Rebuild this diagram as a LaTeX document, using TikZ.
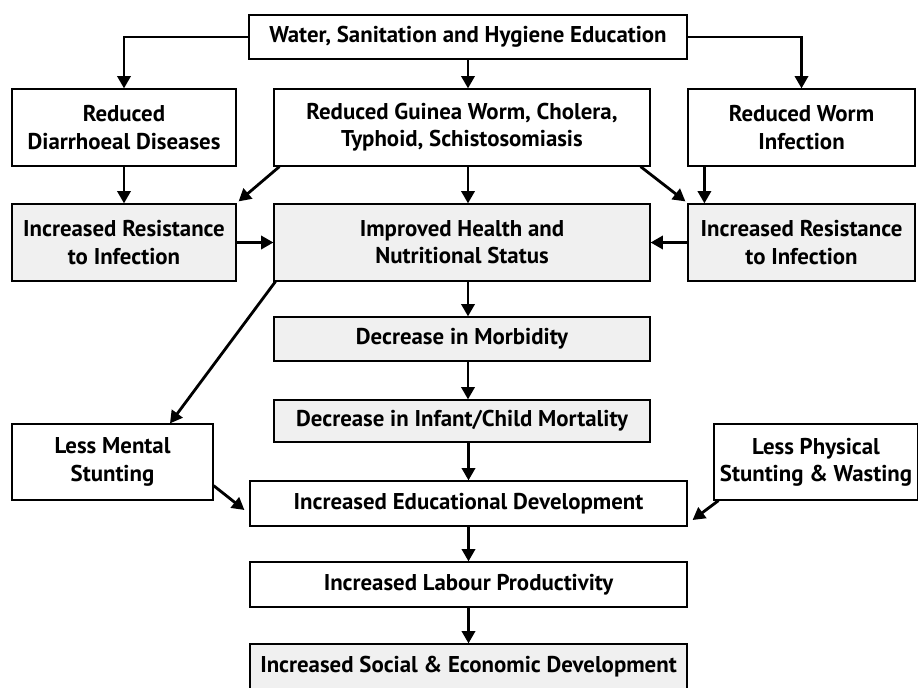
\documentclass[tikz,border=0pt]{standalone}
\usepackage{fontspec}
\setmainfont{PT Sans}
\usetikzlibrary{arrows.meta, positioning}

\begin{document}
\begin{tikzpicture}[
x=0.02cm, y=-0.02cm,
>={Triangle[length=7pt,width=7.5pt]},
box/.style={draw, line width=0.7pt, fill=white, align=center, inner sep=0pt,
  font=\bfseries\fontsize{13}{15.5}\selectfont},
shadebox/.style={box, fill=black!6},
link/.style={->, line width=1.6pt},
]
\useasboundingbox (0,0) rectangle (918,687);
%% top row
% nodes
\node[box, minimum width=8.76cm, minimum height=0.88cm] (wash) at (468,37) {Water, Sanitation and Hygiene Education};
\node[box, minimum width=4.48cm, minimum height=1.54cm] (diar) at (124,127.5) {Reduced\\Diarrhoeal Diseases};
\node[box, minimum width=7.52cm, minimum height=1.54cm] (guinea) at (462,127.5) {Reduced Guinea Worm, Cholera,\\Typhoid, Schistosomiasis};
\node[box, minimum width=4.54cm, minimum height=1.54cm] (worm) at (801.5,127.5) {Reduced Worm\\Infection};
% arrows
\draw[link] (wash.west) -| (diar.north);
\draw[link] (wash.east) -| (worm.north);
\draw[link] (wash.south) -- (wash.south |- guinea.north);

%% health row
% nodes
\node[shadebox, minimum width=4.48cm, minimum height=1.54cm] (resL) at (124,242.5) {Increased Resistance\\to Infection};
\node[shadebox, minimum width=7.52cm, minimum height=1.54cm] (health) at (462,242.5) {Improved Health and\\Nutritional Status};
\node[shadebox, minimum width=4.54cm, minimum height=1.54cm] (resR) at (801.5,242.5) {Increased Resistance\\to Infection};
% arrows
\draw[link] (diar.south) -- (resL.north);
\draw[link] ([xshift=0.12cm]guinea.south west) -- ([xshift=0.04cm,yshift=0.04cm]resL.north east);
\draw[link] ([xshift=-0.2cm]guinea.south east) -- ([xshift=-0.04cm,yshift=0.04cm]resR.north west);
\draw[link] ([xshift=0.34cm]worm.south west) -- ([xshift=0.34cm]resR.north west);
\draw[link] (wash.south |- guinea.south) -- (wash.south |- health.north);
\draw[link] (resL.east) -- (health.west);
\draw[link] (resR.west) -- (health.east);

%% outcomes
% nodes
\node[shadebox, minimum width=7.52cm, minimum height=0.88cm] (morb) at (462,339) {Decrease in Morbidity};
\node[shadebox, minimum width=7.52cm, minimum height=0.84cm] (mort) at (462,421) {Decrease in Infant/Child Mortality};
\node[box, minimum width=4.02cm, minimum height=1.52cm] (mental) at (112.5,462) {Less Mental\\Stunting};
\node[box, minimum width=4.08cm, minimum height=1.52cm] (phys) at (816,462) {Less Physical\\Stunting \& Wasting};
\node[box, minimum width=8.74cm, minimum height=0.9cm] (edu) at (468.5,503.5) {Increased Educational Development};
\node[box, minimum width=8.74cm, minimum height=0.9cm] (labour) at (468.5,584.5) {Increased Labour Productivity};
\node[shadebox, minimum width=8.74cm, minimum height=0.92cm] (social) at (468.5,667) {Increased Social \& Economic Development};
% arrows
\draw[link] ([xshift=0.04cm]health.south west) -- ([xshift=1.15cm]mental.north);
\draw[link] (wash.south |- health.south) -- (wash.south |- morb.north);
\draw[link] (wash.south |- morb.south) -- (wash.south |- mort.north);
\draw[link] (edu.north |- mort.south) -- (edu.north);
\draw[link] (edu.south) -- (labour.north);
\draw[link] (labour.south) -- (social.north);
\draw[link] ([yshift=0.3cm]mental.south east) -- ([xshift=-0.1cm,yshift=-0.13cm]edu.west);
\draw[link] ([xshift=0.1cm]phys.south west) -- ([xshift=0.1cm,yshift=-0.33cm]edu.east);
\end{tikzpicture}
\end{document}
